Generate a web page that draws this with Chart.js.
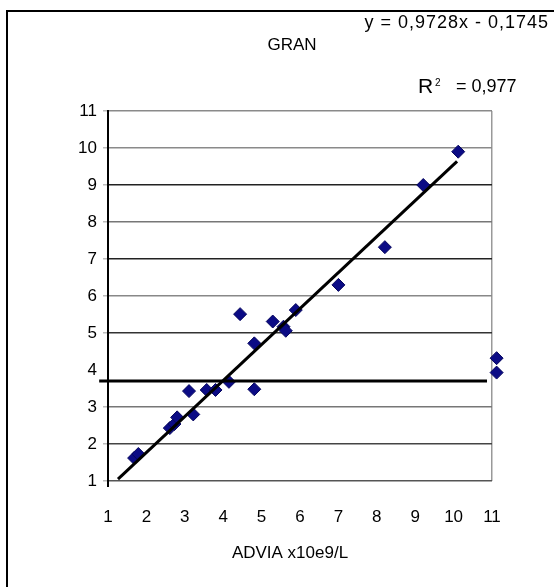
<!DOCTYPE html>
<html>
<head>
<meta charset="utf-8">
<script src="https://cdn.jsdelivr.net/npm/chart.js@4.4.1/dist/chart.umd.min.js"></script>
<style>
    html, body { margin: 0; padding: 0; background: #fff; }
    #wrap { width: 554px; height: 587px; position: relative; }
</style>
</head>
<body>
<div id="wrap"><canvas id="chart"></canvas></div>
<script>
// GRAN: ADVIA vs reference method
// (the two points past 11 come first, otherwise chart.js trims them as out of range)
const adviaX = [11.12, 11.12, 1.68, 1.79, 2.61, 2.73, 2.80, 3.11, 3.22, 3.57, 3.80, 4.15,
    4.44, 4.81, 4.81, 5.29, 5.57, 5.63, 5.89, 7.00, 8.21, 9.21, 10.12];
const refY = [4.32, 3.93, 1.62, 1.73, 2.43, 2.54, 2.72, 3.43, 2.80, 3.46, 3.46, 3.68,
    5.51, 4.72, 3.48, 5.31, 5.17, 5.06, 5.62, 6.30, 7.32, 9.00, 9.90];

// trendline ends (as drawn) and the horizontal cut-off line
const trendX = [1.26, 10.09];
const trendY = [1.05, 9.64];
const cutX = [0.77, 10.87];
const cutY = [3.7, 3.7];

const xTicks = [1, 2, 3, 4, 5, 6, 7, 8, 9, 10, 11];
const yTicks = [1, 2, 3, 4, 5, 6, 7, 8, 9, 10, 11];

const chartTitle = 'GRAN';
const equation = 'y = 0,9728x - 0,1745';
const rSquared = '= 0,977';
const xTitle = 'ADVIA x10e9/L';

const FONT = "'Liberation Sans', Arial, sans-serif";

// grid colours look uneven in the original, keep that
const gridColors = { 11: '#8a8a8a', 10: '#8a8a8a', 9: '#222', 8: '#777', 7: '#222', 6: '#888', 5: '#333', 4: 'rgba(0,0,0,0)', 3: '#777', 2: '#444', 1: '#555' };

const toPoints = (xs, ys) => xs.map((x, i) => ({ x: x, y: ys[i] }));

const decorPlugin = {
    id: 'decor',
    afterDraw(chart) {
        const ctx = chart.ctx;
        ctx.save();
        // frame (only left and top edges are visible)
        ctx.strokeStyle = '#000';
        ctx.lineWidth = 2;
        ctx.beginPath();
        ctx.moveTo(7, 587);
        ctx.lineTo(7, 11);
        ctx.lineTo(554, 11);
        ctx.stroke();

        ctx.fillStyle = '#000';
        ctx.textBaseline = 'middle';
        ctx.font = '17px ' + FONT;
        ctx.textAlign = 'center';
        ctx.fillText(chartTitle, 292, 45);
        ctx.fillText(xTitle, 290, 553);

        ctx.font = '18px ' + FONT;
        ctx.textAlign = 'right';
        ctx.letterSpacing = '1px';
        ctx.fillText(equation, 549, 23);
        ctx.letterSpacing = '0px';

        // R² with small raised 2
        ctx.textAlign = 'left';
        ctx.font = '21px ' + FONT;
        ctx.fillText('R', 418, 87);
        ctx.font = '10px ' + FONT;
        ctx.fillText('2', 435, 83);
        ctx.font = '18px ' + FONT;
        ctx.fillText(rSquared, 456, 87);
        ctx.restore();
    }
};

new Chart(document.getElementById('chart'), {
    type: 'scatter',
    data: {
        datasets: [{
            type: 'line',
            data: toPoints(trendX, trendY),
            borderColor: '#000',
            borderWidth: 3,
            pointRadius: 0,
            showLine: true,
            clip: false
        }, {
            type: 'line',
            data: toPoints(cutX, cutY),
            borderColor: '#000',
            borderWidth: 3,
            pointRadius: 0,
            showLine: true,
            clip: false
        }, {
            data: toPoints(adviaX, refY),
            pointStyle: 'rectRot',
            pointRadius: 6.5,
            backgroundColor: '#0b0b85',
            borderColor: '#06065e',
            borderWidth: 1,
            clip: false
        }]
    },
    options: {
        responsive: true,
        maintainAspectRatio: false,
        animation: false,
        events: [],
        layout: { padding: { left: 60, right: 62, top: 111, bottom: 12 } },
        plugins: {
            legend: { display: false },
            tooltip: { enabled: false }
        },
        scales: {
            x: {
                type: 'linear',
                min: 1,
                max: 11,
                afterBuildTicks: (axis) => { axis.ticks = xTicks.map(v => ({ value: v })); },
                afterFit: (axis) => { axis.height = 94; },
                border: { display: false },
                grid: {
                    color: (c) => c.index === 0 ? '#000' : (c.index === 10 ? '#999' : 'rgba(0,0,0,0)'),
                    tickColor: (c) => c.index === 0 ? '#000' : 'rgba(0,0,0,0)',
                    lineWidth: (c) => c.index === 0 ? 2 : 1.5,
                    tickLength: 6
                },
                ticks: {
                    padding: 20,
                    color: '#000',
                    font: { family: FONT, size: 17 },
                    maxRotation: 0,
                    autoSkip: false
                }
            },
            y: {
                min: 1,
                max: 11,
                afterBuildTicks: (axis) => { axis.ticks = yTicks.map(v => ({ value: v })); },
                afterFit: (axis) => { axis.width = 48; },
                border: { display: true, color: '#000', width: 2 },
                grid: {
                    color: (c) => gridColors[c.tick.value],
                    tickColor: (c) => c.tick.value === 4 ? 'rgba(0,0,0,0)' : '#bbb',
                    lineWidth: 1.5,
                    tickLength: 5
                },
                ticks: {
                    padding: 6,
                    color: '#000',
                    font: { family: FONT, size: 17 }
                }
            }
        }
    },
    plugins: [decorPlugin]
});
</script>
</body>
</html>
